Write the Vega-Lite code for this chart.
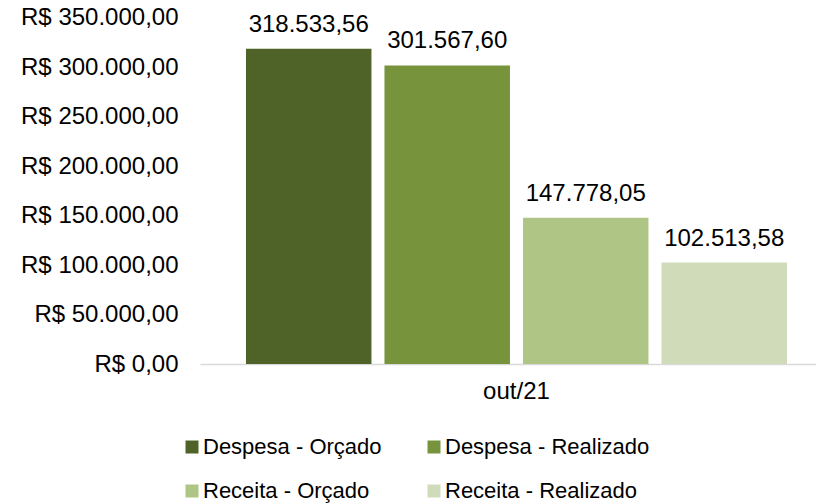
{
  "$schema": "https://vega.github.io/schema/vega-lite/v6.json",
  "autosize": {"type": "none"},
  "padding": {"left": 200, "top": 17.5, "right": 0, "bottom": 139.5},
  "width": 616,
  "height": 346.5,
  "background": "white",
  "config": {
    "locale": {"number": {"decimal": ",", "thousands": ".", "grouping": [3], "currency": ["R$ ", ""]}},
    "view": {"stroke": null},
    "font": "Liberation Sans"
  },
  "data": {"values": [
    {"periodo": "out/21", "serie": "Despesa - Orçado", "valor": 318533.56},
    {"periodo": "out/21", "serie": "Despesa - Realizado", "valor": 301567.60},
    {"periodo": "out/21", "serie": "Receita - Orçado", "valor": 147778.05},
    {"periodo": "out/21", "serie": "Receita - Realizado", "valor": 102513.58}
  ]},
  "encoding": {
    "x": {
      "field": "periodo", "type": "nominal", "title": null,
      "scale": {"paddingOuter": 0.0693, "paddingInner": 0, "align": 0.613},
      "axis": {"labelAngle": 0, "labelFontSize": 24, "labelColor": "#000000", "labelPadding": 15, "ticks": false, "domainColor": "#D9D9D9", "domainWidth": 1.3}
    },
    "xOffset": {
      "field": "serie", "type": "nominal",
      "sort": ["Despesa - Orçado", "Despesa - Realizado", "Receita - Orçado", "Receita - Realizado"],
      "scale": {"paddingInner": 0.094, "paddingOuter": 0}
    },
    "y": {
      "field": "valor", "type": "quantitative",
      "scale": {"domain": [0, 350000], "nice": false},
      "axis": {"title": null, "values": [0, 50000, 100000, 150000, 200000, 250000, 300000, 350000], "format": "$,.2f", "grid": false, "domain": false, "ticks": false, "labelFontSize": 24, "labelPadding": 22, "labelColor": "#000000"}
    }
  },
  "layer": [
    {
      "mark": {"type": "bar"},
      "encoding": {
        "color": {
          "field": "serie", "type": "nominal",
          "scale": {"domain": ["Despesa - Orçado", "Despesa - Realizado", "Receita - Orçado", "Receita - Realizado"], "range": ["#4F6228", "#77933C", "#AFC585", "#CFDBB9"]},
          "legend": {"orient": "none", "direction": "horizontal", "legendX": -19, "legendY": 418.5, "columns": 2, "columnPadding": 41, "rowPadding": 22, "symbolType": "square", "symbolSize": 169, "symbolStrokeWidth": 0, "labelFontSize": 22, "labelColor": "#000000", "labelOffset": 0, "labelLimit": 400, "title": null, "padding": 0}
        }
      }
    },
    {
      "mark": {"type": "text", "dy": -17, "baseline": "alphabetic", "fontSize": 24, "color": "#000000"},
      "encoding": {"text": {"field": "valor", "type": "quantitative", "format": ",.2f"}}
    }
  ]
}
